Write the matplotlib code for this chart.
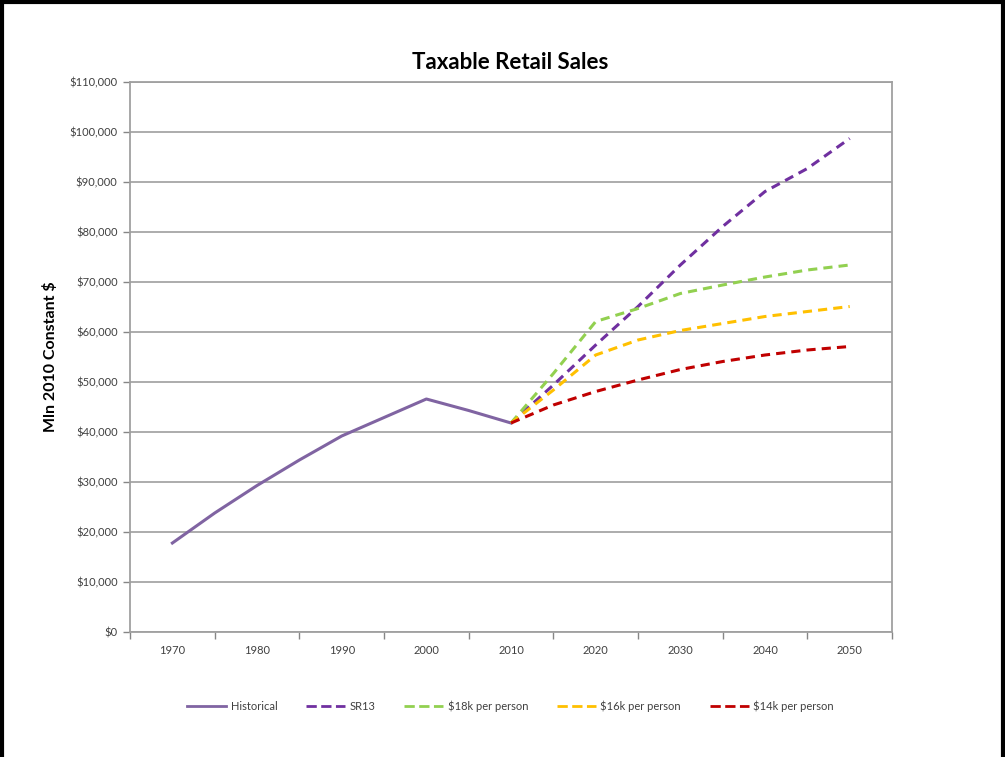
import matplotlib.pyplot as plt
from matplotlib.lines import Line2D
from matplotlib.ticker import FuncFormatter, FixedLocator
import numpy as np

plt.rcParams['font.family'] = ['Lato', 'DejaVu Sans']

# historical series, 5-year steps
hist_years = [1970, 1975, 1980, 1985, 1990, 1995, 2000, 2005, 2010]
hist_sales = [17800, 23800, 29300, 34400, 39200, 42900, 46600, 44300, 41800]

# projections from 2010
proj_years = [2010, 2015, 2020, 2025, 2030, 2035, 2040, 2045, 2050]
sr13 = [41800, 49400, 57400, 65100, 73400, 81100, 88100, 92700, 98700]
per18k = [41800, 51700, 62100, 64700, 67700, 69400, 71000, 72400, 73400]
per16k = [41800, 48400, 55400, 58400, 60300, 61700, 63100, 64100, 65100]
per14k = [41800, 45400, 48100, 50400, 52500, 54100, 55400, 56400, 57100]

decade_labels = [1970, 1980, 1990, 2000, 2010, 2020, 2030, 2040, 2050]

fig = plt.figure(figsize=(10.05, 7.57), dpi=100)
ax = fig.add_axes([0.1294, 0.1651, 0.7582, 0.7266])

ax.plot(hist_years, hist_sales, color='#8064A2', lw=2.2, label='Historical')
ax.plot(proj_years, sr13, color='#7030A0', lw=2.2, ls=(0, (3, 2)), label='SR13')
ax.plot(proj_years, per18k, color='#92D050', lw=2.2, ls=(0, (3, 2)), label='$18k per person')
ax.plot(proj_years, per16k, color='#FFC000', lw=2.2, ls=(0, (3, 2)), label='$16k per person')
ax.plot(proj_years, per14k, color='#C00000', lw=2.2, ls=(0, (3, 2)), label='$14k per person')

ax.set_xlim(1965, 2055)
ax.set_ylim(0, 110000)

# boundary ticks between decades, labels at the decade centres
ax.xaxis.set_major_locator(FixedLocator(np.arange(1965, 2056, 10)))
ax.xaxis.set_minor_locator(FixedLocator(decade_labels))
ax.set_xticklabels([])
ax.set_xticklabels([str(y) for y in decade_labels], minor=True)
ax.tick_params(axis='x', which='major', length=5, width=1, color='#868686', direction='out')
ax.tick_params(axis='x', which='minor', length=0, pad=9, labelsize=8, labelcolor='#404040')

ax.set_yticks(np.arange(0, 110001, 10000))
ax.yaxis.set_major_formatter(FuncFormatter(lambda v, p: '${:,.0f}'.format(v)))
ax.tick_params(axis='y', length=5, width=1, color='#868686', labelsize=8,
               labelcolor='#404040', pad=4)

ax.grid(axis='y', color='#A6A6A6', lw=1.3)
ax.set_axisbelow(True)
for s in ax.spines.values():
    s.set_color('#A0A0A0')
    s.set_linewidth(1.3)

ax.set_ylabel('Mln 2010 Constant $', fontsize=11.5, fontweight='bold', labelpad=8)
fig.text(0.508, 0.918, 'Taxable Retail Sales', ha='center', va='center',
         fontsize=16, fontweight='bold')

handles = [Line2D([], [], color=l.get_color(), lw=2, ls=l.get_linestyle())
           for l in ax.get_lines()]
fig.legend(handles, [l.get_label() for l in ax.get_lines()], loc='center',
           bbox_to_anchor=(0.508, 0.067), ncol=5, frameon=False, fontsize=8,
           handlelength=3.5, handletextpad=0.4, columnspacing=2.6,
           labelcolor='#404040')

# frame around the slide
for xs, ys in [([0.002, 0.002], [0, 0.998]), ([0.002, 0.998], [0.998, 0.998]),
               ([0.998, 0.998], [0.998, 0])]:
    fig.add_artist(Line2D(xs, ys, color='black', lw=3, transform=fig.transFigure))

fig.savefig('out.png', dpi=100)
